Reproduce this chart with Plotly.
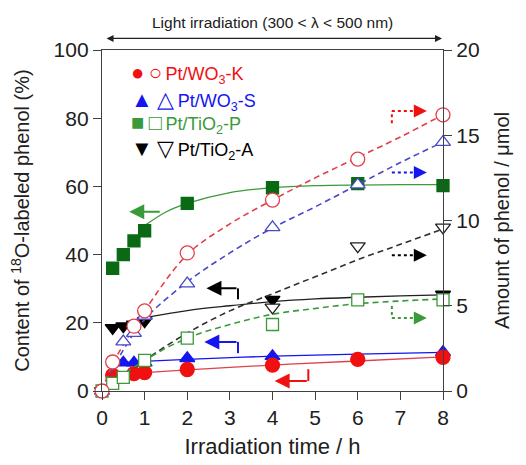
import plotly.graph_objects as go

# irradiation time (h) and measured values read from the figure
# filled symbols: 18O content (%), left axis
t_wk = [0.25, 0.75, 1, 2, 4, 6, 8]
wk_pct = [4.6, 5.1, 5.4, 6.3, 7.6, 9.3, 9.9]
t_ws = [0.5, 0.75, 1, 2, 4, 8]
ws_pct = [8.3, 8.3, 8.3, 9.6, 10.2, 11.4]
t_tp = [0.25, 0.5, 0.75, 1, 2, 4, 6, 8]
tp_pct = [36, 40, 44, 47, 55, 59.6, 60.8, 60.2]
t_ta = [0.25, 0.5, 0.75, 1, 4, 8]
ta_pct = [18.5, 19, 19.5, 20.5, 26.8, 28.3]

# open symbols: amount of phenol (umol), right axis
t_wk_o = [0, 0.25, 0.75, 1, 2, 4, 6, 8]
wk_umol = [0, 1.7, 3.8, 4.7, 8.1, 11.2, 13.6, 16.2]
t_ws_o = [0, 0.5, 0.75, 1, 2, 4, 6, 8]
ws_umol = [0, 2.9, 3.4, 4.4, 6.3, 9.6, 12.1, 14.6]
t_tp_o = [0, 0.25, 0.5, 1, 2, 4, 6, 8]
tp_umol = [0, 0.45, 0.8, 1.8, 3.1, 3.9, 5.35, 5.35]
t_ta_o = [0, 4, 6, 8]
ta_umol = [0, 4.9, 8.5, 9.6]

# fitted curves as drawn in the figure
fit_wk_t = [0.25, 1, 2, 4, 6, 8]
fit_wk = [4.8, 5.4, 6.2, 7.6, 8.8, 10]
fit_ws_t = [0.25, 1, 2, 4, 6, 8]
fit_ws = [8.2, 8.7, 9.3, 10.2, 10.8, 11.3]
fit_tp_t = [1, 1.5, 2, 3, 4, 5, 6, 7, 8]
fit_tp = [48.5, 52.5, 55, 58.2, 59.6, 60.2, 60.4, 60.5, 60.5]
fit_ta_t = [1, 2, 3, 4, 5, 6, 7, 8]
fit_ta = [21.5, 23.6, 25, 26.2, 27, 27.5, 27.9, 28.2]

fit_wk_o_t = [0, 0.25, 0.5, 1, 2, 3, 4, 5, 6, 7, 8]
fit_wk_o = [0, 1.6, 2.7, 4.7, 8.0, 9.8, 11.2, 12.5, 13.7, 14.9, 16.2]
fit_ws_o_t = [0, 0.5, 1, 2, 3, 4, 5, 6, 7, 8]
fit_ws_o = [0, 2.4, 4.2, 6.4, 8.1, 9.56, 10.8, 12.1, 13.4, 14.6]
fit_tp_o_t = [0, 1, 2, 3, 4, 5, 6, 7, 8]
fit_tp_o = [0, 1.8, 3.1, 3.9, 4.5, 4.84, 5.12, 5.28, 5.4]
fit_ta_o_t = [0, 1, 2, 3, 4, 5, 6, 7, 8]
fit_ta_o = [0, 1.8, 3.4, 4.7, 5.7, 6.7, 7.7, 8.6, 9.5]

RED = "#f01010"
RED_L = "#e0404a"
BLUE = "#1515f0"
BLUE_L = "#4848c8"
GREEN = "#0a6a14"
GREEN_L = "#3a9a3a"
BLACK = "#000000"
FONT = "Liberation Sans, Arial, sans-serif"

fig = go.Figure()

# dashed fits (right axis)
for tt, yy, c in [(fit_ta_o_t, fit_ta_o, "#303030"), (fit_tp_o_t, fit_tp_o, GREEN_L),
                  (fit_ws_o_t, fit_ws_o, BLUE_L), (fit_wk_o_t, fit_wk_o, RED_L)]:
    fig.add_trace(go.Scatter(x=tt, y=yy, yaxis="y2", mode="lines", line_shape="spline",
                             line=dict(color=c, width=1.6, dash="6px,4px"), hoverinfo="skip"))
# solid fits (left axis)
for tt, yy, c in [(fit_tp_t, fit_tp, GREEN_L), (fit_ta_t, fit_ta, "#202020"),
                  (fit_ws_t, fit_ws, BLUE), (fit_wk_t, fit_wk, RED_L)]:
    fig.add_trace(go.Scatter(x=tt, y=yy, mode="lines", line_shape="spline",
                             line=dict(color=c, width=1.3), hoverinfo="skip"))


def pts(tt, yy, sym, fill, edge, size, ax="y"):
    fig.add_trace(go.Scatter(x=tt, y=yy, yaxis=ax, mode="markers", cliponaxis=False,
                             marker=dict(symbol=sym, size=size, color=fill,
                                         line=dict(color=edge, width=1.3))))


pts(t_ta_o, ta_umol, "triangle-down", "white", "#202020", 13, "y2")
pts(t_tp_o, tp_umol, "square", "white", GREEN_L, 12, "y2")
pts(t_ta, ta_pct, "triangle-down", BLACK, BLACK, 13)
pts(t_ws_o, ws_umol, "triangle-up", "white", BLUE_L, 13, "y2")
pts(t_wk_o, wk_umol, "circle", "white", RED_L, 14, "y2")
pts(t_tp, tp_pct, "square", GREEN, GREEN, 12)
pts(t_ws, ws_pct, "triangle-up", BLUE, BLUE, 13)
pts(t_wk, wk_pct, "circle", RED, RED, 14)

anns = []
shapes = []


def arrow(x0, y0, x1, y1, c, dotted=False):
    if dotted:
        shapes.append(dict(type="line", xref="x", yref="y", x0=x0, y0=y0, x1=x1 - 0.15, y1=y1,
                           line=dict(color=c, width=2, dash="dot")))
        anns.append(dict(x=x1, y=y1, xref="x", yref="y", ax=-9, ay=0, text="", showarrow=True,
                         arrowhead=2, arrowsize=1.3, arrowwidth=2, arrowcolor=c))
    else:
        anns.append(dict(x=x1, y=y1, xref="x", yref="y", ax=x0, ay=y0, axref="x", ayref="y",
                         text="", showarrow=True, arrowhead=2, arrowsize=1.5,
                         arrowwidth=2, arrowcolor=c))


def seg(x0, y0, x1, y1, c, dotted=False):
    shapes.append(dict(type="line", xref="x", yref="y", x0=x0, y0=y0, x1=x1, y1=y1,
                       line=dict(color=c, width=2, dash="dot" if dotted else "solid")))


arrow(1.39, 52.6, 0.64, 52.6, GREEN_L)
seg(3.19, 26.9, 3.19, 30.1, BLACK)
arrow(3.19, 30.1, 2.45, 30.1, BLACK)
seg(3.19, 11.1, 3.19, 14.4, BLUE)
arrow(3.19, 14.4, 2.4, 14.4, BLUE)
seg(4.84, 6.4, 4.84, 2.9, RED)
arrow(4.84, 2.9, 4.05, 2.9, RED)
seg(6.8, 78.5, 6.8, 82.1, RED, True)
arrow(6.8, 82.1, 7.62, 82.1, RED, True)
arrow(6.8, 64.1, 7.62, 64.1, BLUE, True)
arrow(6.8, 39.8, 7.62, 39.8, BLACK, True)
seg(6.8, 24.9, 6.8, 21.4, GREEN_L, True)
arrow(6.8, 21.4, 7.62, 21.4, GREEN_L, True)

# light irradiation double arrow and label
anns.append(dict(x=0.997, y=1.034, xref="x domain", yref="y domain", ax=0.009, ay=1.034,
                 axref="x domain", ayref="y domain", text="", showarrow=True, arrowhead=2,
                 startarrowhead=2, arrowside="end+start", arrowsize=1, startarrowsize=1,
                 arrowwidth=1.4, arrowcolor="#202020"))
anns.append(dict(x=0.5, y=1.08, xref="paper", yref="paper", showarrow=False,
                 xanchor="center", yanchor="middle",
                 text="Light irradiation (300 &lt; λ &lt; 500 nm)",
                 font=dict(size=15.5, color="#202020", family=FONT)))

# legend
sym = '<span style="font-size:22px">%s</span>'
legend_rows = [(sym % "●\u2009○", "Pt/WO<sub>3</sub>-K", RED, 0.93),
               (sym % "▲\u2009△", "Pt/WO<sub>3</sub>-S", BLUE, 0.853),
               (sym % "■\u2009□", "Pt/TiO<sub>2</sub>-P", GREEN_L, 0.783),
               (sym % "▼\u2009▽", "Pt/TiO<sub>2</sub>-A", BLACK, 0.708)]
for s, txt, c, yy in legend_rows:
    anns.append(dict(x=0.08, y=yy, xref="paper", yref="paper", xanchor="left", yanchor="middle",
                     showarrow=False, text=s + "\u2009" + txt,
                     font=dict(size=18, color=c, family=FONT)))

axis_common = dict(showline=True, linecolor="#404040", linewidth=1.3, ticks="outside",
                   tickcolor="#404040", tickwidth=1.3, showgrid=False, zeroline=False,
                   automargin=False, ticklen=8,
                   tickfont=dict(size=21, color="#202020", family=FONT))

# page body adds an 8px offset, so the figure is a little smaller than the window
fig.update_layout(
    width=518, height=457,
    margin=dict(l=94, r=83, t=42, b=74),
    paper_bgcolor="white", plot_bgcolor="white",
    showlegend=False,
    xaxis=dict(range=[0, 8], dtick=1, mirror=True,
               title=dict(text="Irradiation time / h", font=dict(size=22, color="#202020", family=FONT),
                          standoff=10),
               **axis_common),
    yaxis=dict(range=[0, 100], dtick=20,
               title=dict(text="Content of <sup>18</sup>O-labeled phenol (%)",
                          font=dict(size=20, color="#202020", family=FONT), standoff=20),
               **axis_common),
    yaxis2=dict(range=[0, 20], dtick=5, overlaying="y", side="right",
                title=dict(text="Amount of phenol / μmol",
                           font=dict(size=20, color="#202020", family=FONT), standoff=16),
                **axis_common),
    annotations=anns,
    shapes=shapes,
)

fig.write_html("out.html")
